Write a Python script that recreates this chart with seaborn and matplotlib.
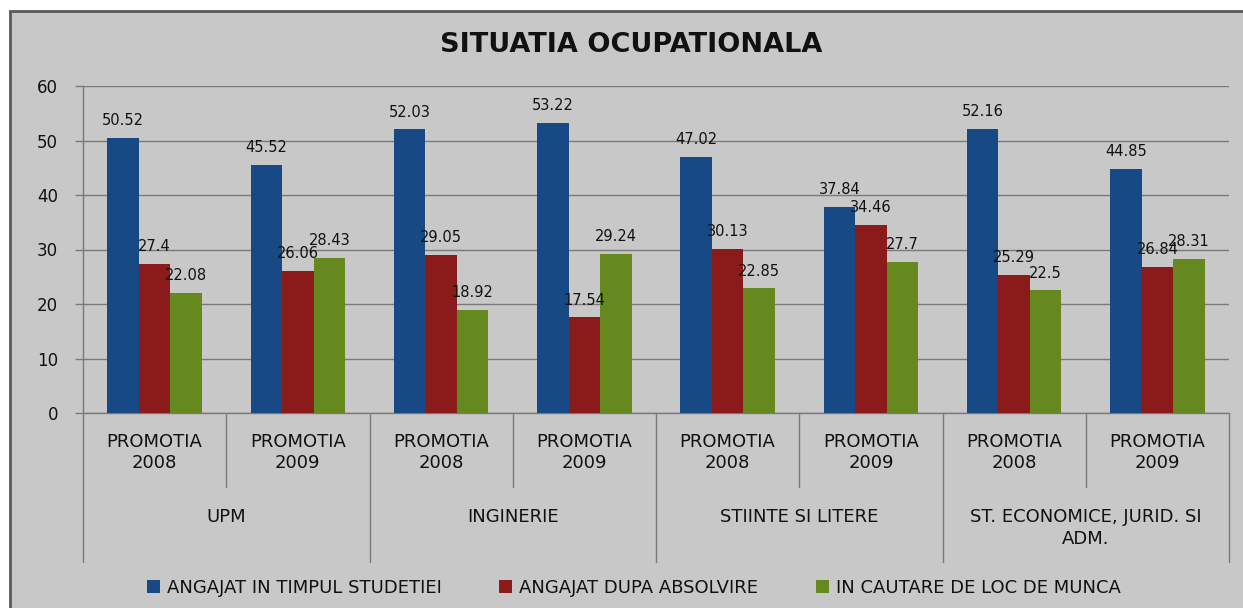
import matplotlib
matplotlib.use("Agg")
import matplotlib.pyplot as plt
import matplotlib.patches as mpatches
from matplotlib.lines import Line2D
import seaborn as sns
import pandas as pd
import numpy as np

# data
groups = ["UPM", "INGINERIE", "STIINTE SI LITERE", "ST. ECONOMICE, JURID. SI\nADM."]
years = ["PROMOTIA\n2008", "PROMOTIA\n2009"]
series = ["ANGAJAT IN TIMPUL STUDETIEI", "ANGAJAT DUPA ABSOLVIRE", "IN CAUTARE DE LOC DE MUNCA"]
angajat_studii = [50.52, 45.52, 52.03, 53.22, 47.02, 37.84, 52.16, 44.85]
angajat_dupa = [27.4, 26.06, 29.05, 17.54, 30.13, 34.46, 25.29, 26.84]
in_cautare = [22.08, 28.43, 18.92, 29.24, 22.85, 27.7, 22.5, 28.31]
colors = ["#174A85", "#8B1A1A", "#65881F"]

slots = [f"{g}|{y}" for g in groups for y in years]
rows = []
for name, vals in zip(series, [angajat_studii, angajat_dupa, in_cautare]):
    for s, v in zip(slots, vals):
        rows.append({"slot": s, "serie": name, "valoare": v})
df = pd.DataFrame(rows)

sns.set_style("white")
plt.rcParams["font.family"] = ["DejaVu Sans"]

fig = plt.figure(figsize=(12.43, 6.08), dpi=100)
fig.patch.set_facecolor("white")
# grey chart area with dark frame
fig.patches.append(mpatches.Rectangle((10 / 1243, -0.1), 1.2, 1.1 - 11 / 608,
                                      transform=fig.transFigure, facecolor="#C8C8C8",
                                      edgecolor="#5A5A5A", linewidth=2, zorder=-10))

ax = fig.add_axes([83 / 1243, 1 - 413 / 608, (1229 - 83) / 1243, (413 - 86) / 608])
ax.set_facecolor("none")

sns.barplot(data=df, x="slot", y="valoare", hue="serie", order=slots, hue_order=series,
            palette=colors, width=0.66, gap=0, saturation=1, linewidth=0, ax=ax,
            legend=False, zorder=3)

for cont, vals in zip(ax.containers, [angajat_studii, angajat_dupa, in_cautare]):
    ax.bar_label(cont, labels=[f"{v:g}" for v in vals], padding=7, fontsize=10.5,
                 fontfamily="DejaVu Sans", color="#111111", zorder=5)

ax.set_ylim(0, 60)
ax.set_xlim(-0.5, len(slots) - 0.5)
ax.set_yticks(np.arange(0, 61, 10))
ax.yaxis.grid(True, color="#7A7A7A", linewidth=1)
ax.set_axisbelow(True)
ax.tick_params(axis="y", length=6, width=1, color="#7A7A7A", labelsize=12, pad=12,
               left=True, labelcolor="#111111")
ax.tick_params(axis="x", bottom=False, labelbottom=False)
ax.set_xlabel("")
ax.set_ylabel("")
for side in ["top", "right"]:
    ax.spines[side].set_visible(False)
for side in ["left", "bottom"]:
    ax.spines[side].set_color("#7A7A7A")
    ax.spines[side].set_linewidth(1)

# two-level category axis
xt = ax.get_xaxis_transform()
for i, s in enumerate(slots):
    ax.annotate(years[i % 2], xy=(i, 0), xycoords=xt, xytext=(0, -20),
                textcoords="offset pixels", ha="center", va="top", fontsize=13,
                color="#111111", linespacing=1.25, annotation_clip=False)
for j, g in enumerate(groups):
    ax.annotate(g, xy=(2 * j + 0.5, 0), xycoords=xt, xytext=(0, -95),
                textcoords="offset pixels", ha="center", va="top", fontsize=13,
                color="#111111", linespacing=1.25, annotation_clip=False)
for k in range(len(slots) + 1):
    xpos = k - 0.5
    ybot = -(487 - 413) / 327 if k % 2 else -(562 - 413) / 327
    ax.add_line(Line2D([xpos, xpos], [0, ybot], transform=xt, color="#7A7A7A",
                       linewidth=1, clip_on=False))

fig.text(0.508, 1 - 45 / 608, "SITUATIA OCUPATIONALA", ha="center", va="center",
         fontsize=19.5, fontweight="bold", color="#111111")

handles = [mpatches.Patch(facecolor=c, edgecolor="none") for c in colors]
fig.legend(handles, series, loc="center", bbox_to_anchor=(0.51, 1 - 588 / 608), ncol=3,
           frameon=False, fontsize=13, handlelength=0.7, handleheight=0.7,
           handletextpad=0.4, columnspacing=3.2, labelcolor="#111111")

fig.savefig("out.png", dpi=100, facecolor=fig.get_facecolor())
